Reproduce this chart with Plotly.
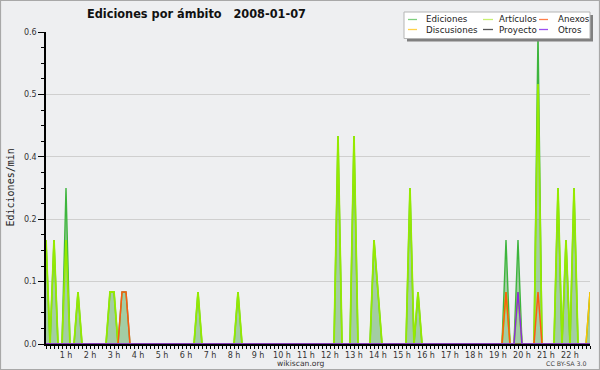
import plotly.graph_objects as go

# ---------------- data (10-minute slots, edits per minute) ----------------
slot_start = "00:10"   # first slot shown
slot_end = "22:50"     # last slot shown

ed_times = ["00:10", "00:30", "01:00", "01:30", "02:50", "03:00", "03:20", "03:30",
            "06:30", "08:10", "12:20", "13:00", "13:50", "14:00", "15:20", "15:40",
            "19:20", "19:50", "20:40", "21:30", "21:50", "22:10", "22:50"]
ed_vals = [0.2, 0.2, 0.3, 0.1, 0.1, 0.1, 0.1, 0.1,
           0.1, 0.1, 0.4, 0.4, 0.2, 0.1, 0.3, 0.1,
           0.2, 0.2, 0.6, 0.3, 0.2, 0.3, 0.1]

art_times = ["00:10", "00:30", "01:00", "01:30", "02:50", "03:00",
             "06:30", "08:10", "12:20", "13:00", "13:50", "14:00", "15:20", "15:40",
             "19:20", "19:50", "20:40", "21:30", "21:50", "22:10"]
art_vals = [0.2, 0.2, 0.2, 0.1, 0.1, 0.1,
            0.1, 0.1, 0.4, 0.4, 0.2, 0.1, 0.3, 0.1,
            0.1, 0.1, 0.5, 0.3, 0.2, 0.3]

anx_times = ["03:20", "03:30", "19:20", "20:40"]
anx_vals = [0.1, 0.1, 0.1, 0.1]

dis_times = ["22:50"]
dis_vals = [0.1]

pro_times = []
pro_vals = []

otr_times = ["19:50"]
otr_vals = [0.1]

hour_labels = [f"{h} h" for h in range(1, 23)]
y_tick_vals = [0.0, 0.12, 0.24, 0.36, 0.48, 0.60]
y_tick_text = ["0.0", "0.1", "0.2", "0.4", "0.5", "0.6"]

series = [
    ("Ediciones", ed_times, ed_vals, "#3db53d", 1.4),
    ("Artículos", art_times, art_vals, "#95ea00", 1.8),
    ("Anexos", anx_times, anx_vals, "#ff5a10", 1.5),
    ("Discusiones", dis_times, dis_vals, "#ffc400", 1.5),
    ("Proyecto", pro_times, pro_vals, "#555555", 1.5),
    ("Otros", otr_times, otr_vals, "#8a2be2", 1.5),
]

# ---------------- helpers ----------------
def to_hours(s):
    h, m = s.split(":")
    return int(h) + int(m) / 60.0

t0 = to_hours(slot_start)
t1 = to_hours(slot_end)
n_slots = int(round((t1 - t0) * 6)) + 1
grid = [t0 + i / 6.0 for i in range(n_slots)]

def full_series(times, vals):
    d = {int(round((to_hours(t) - t0) * 6)): v for t, v in zip(times, vals)}
    return [d.get(i, 0.0) for i in range(n_slots)]

fig = go.Figure()
for k, (name, times, vals, col, lw) in enumerate(series):
    y = full_series(times, vals)
    if k == 0:
        fig.add_trace(go.Scatter(x=grid, y=y, mode="lines", name=name,
                                 line=dict(color=col, width=lw),
                                 fill="tozeroy", fillcolor="rgba(70,165,70,0.45)",
                                 showlegend=False, hoverinfo="skip"))
    else:
        fig.add_trace(go.Scatter(x=grid, y=y, mode="lines", name=name,
                                 line=dict(color=col, width=lw),
                                 showlegend=False, hoverinfo="skip"))

# ---------------- layout ----------------
W, H = 600, 370
L, R, T, B = 46, 10, 32, 26
PW, PH = W - L - R, H - T - B

def px(x):
    return (x - L) / PW

def py(y):
    return (H - B - y) / PH

bg = "#eeeff1"
tickfont = dict(family="DejaVu Sans", size=8, color="#333333")

fig.update_layout(
    width=W, height=H,
    margin=dict(l=L, r=R, t=T, b=B),
    paper_bgcolor=bg, plot_bgcolor=bg,
    showlegend=False,
    xaxis=dict(
        range=[t0, t1], showgrid=False, zeroline=False,
        showline=True, linecolor="black", linewidth=1.5,
        tickmode="array", tickvals=list(range(1, 23)), ticktext=hour_labels,
        ticks="outside", ticklen=3, tickcolor="black", tickwidth=1,
        tickfont=tickfont,
        minor=dict(tickmode="linear", tick0=0, dtick=1 / 6.0, ticks="outside",
                   ticklen=3, tickcolor="black", tickwidth=1, showgrid=False),
    ),
    yaxis=dict(
        range=[0, 0.6], showgrid=True, gridcolor="#cfcfcf", gridwidth=1,
        zeroline=False, showline=True, linecolor="black", linewidth=1.5,
        tickmode="array", tickvals=y_tick_vals, ticktext=y_tick_text,
        ticks="outside", ticklen=6, tickcolor="black", tickwidth=1,
        tickfont=tickfont,
        minor=dict(tickmode="linear", tick0=0, dtick=0.03, ticks="outside",
                   ticklen=3, tickcolor="black", tickwidth=1, showgrid=False),
    ),
)

shapes = []
annotations = []

# outer border
shapes.append(dict(type="rect", xref="paper", yref="paper",
                   x0=px(0.5), x1=px(599.5), y0=py(369.5), y1=py(0.5),
                   line=dict(color="#a8a8a8", width=1.2), layer="above"))

# legend box with shadow
shapes.append(dict(type="rect", xref="paper", yref="paper",
                   x0=px(407), x1=px(593), y0=py(41.5), y1=py(15),
                   fillcolor="#808080", line=dict(width=0), layer="above"))
shapes.append(dict(type="rect", xref="paper", yref="paper",
                   x0=px(404), x1=px(590), y0=py(38.5), y1=py(12),
                   fillcolor="white", line=dict(color="#b5b5b5", width=1), layer="above"))

legend_cols = [(408, 417, 424), (483, 493, 496.5), (539, 548, 555.5)]
legend_rows = [19.5, 29.5]
legend_order = [0, 1, 2, 3, 4, 5]  # row-major: Ediciones, Artículos, Anexos / Discusiones, Proyecto, Otros
legend_colors = ["#7fcf7f", "#c8f070", "#ff7f4a", "#ffd24a", "#555555", "#9b4ff0"]
for pos, idx in enumerate(legend_order):
    r, c = divmod(pos, 3)
    lx0, lx1, tx = legend_cols[c]
    yy = legend_rows[r]
    shapes.append(dict(type="line", xref="paper", yref="paper",
                       x0=px(lx0), x1=px(lx1), y0=py(yy), y1=py(yy),
                       line=dict(color=legend_colors[idx], width=1.3), layer="above"))
    annotations.append(dict(xref="paper", yref="paper", x=px(tx), y=py(yy),
                            text=series[idx][0], showarrow=False,
                            xanchor="left", yanchor="middle",
                            font=dict(family="DejaVu Sans", size=8.7, color="#222222")))

# title
annotations.append(dict(xref="paper", yref="paper", x=px(85), y=py(14),
                        text="<b>Ediciones por ámbito\u00a0\u00a0 2008-01-07</b>",
                        showarrow=False, xanchor="left", yanchor="middle",
                        font=dict(family="DejaVu Sans Condensed, DejaVu Sans", size=12.6, color="#111111")))
# y title
annotations.append(dict(xref="paper", yref="paper", x=px(9.5), y=py(188),
                        text="Ediciones/min", textangle=-90, showarrow=False,
                        xanchor="center", yanchor="middle",
                        font=dict(family="DejaVu Sans Mono", size=10, color="#222222")))
# footer
annotations.append(dict(xref="paper", yref="paper", x=px(300.5), y=py(363.5),
                        text="wikiscan.org", showarrow=False,
                        xanchor="center", yanchor="middle",
                        font=dict(family="DejaVu Sans", size=7.6, color="#333333")))
annotations.append(dict(xref="paper", yref="paper", x=px(589), y=py(363.5),
                        text="CC BY-SA 3.0", showarrow=False,
                        xanchor="right", yanchor="middle",
                        font=dict(family="DejaVu Sans", size=6.3, color="#444444")))

fig.update_layout(shapes=shapes, annotations=annotations)
fig.write_html("out.html")
